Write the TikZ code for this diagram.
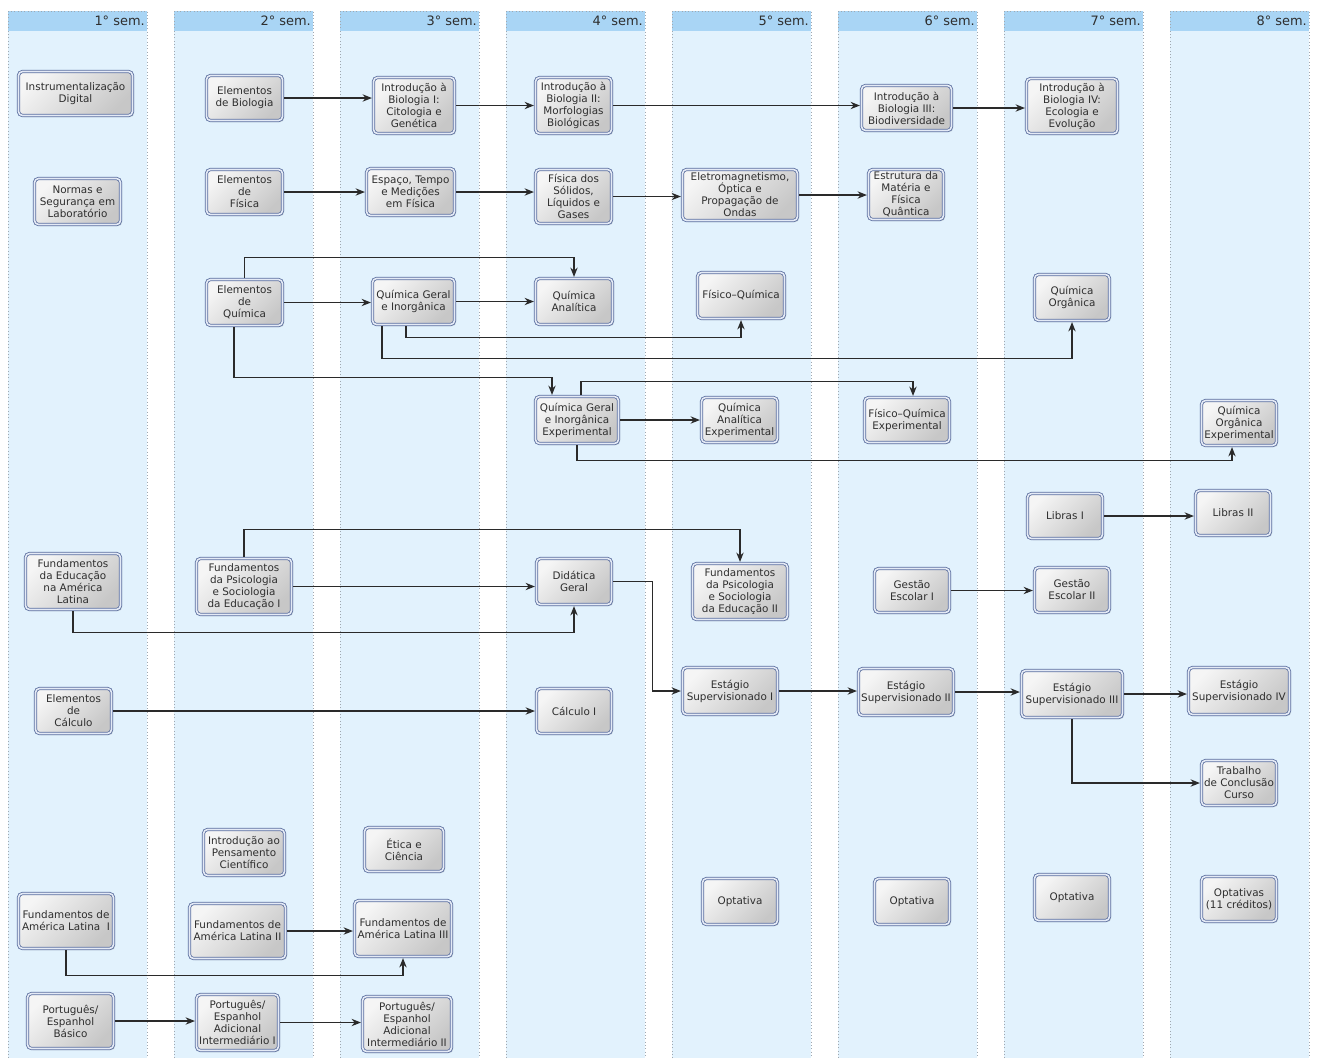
\documentclass[tikz,border=0pt]{standalone}
\usepackage{fontspec}
\setmainfont{DejaVu Sans}
\usetikzlibrary{calc,arrows.meta,shadows}
\definecolor{lanefill}{HTML}{E2F2FD}
\definecolor{headfill}{HTML}{A9D5F5}
\definecolor{lanebd}{HTML}{A0A8B0}
\definecolor{nodebd}{HTML}{5A6E9E}
\definecolor{nodegap}{HTML}{E4EAF6}
\definecolor{txt}{HTML}{2E2E2E}
\definecolor{wire}{HTML}{2A2A2A}
\tikzset{
  course/.style={draw=nodebd, line width=0.6pt, double=nodegap, double distance=1.2pt,
    rounded corners=3pt, top color=white!96!black, bottom color=black!22, shading angle=45,
    drop shadow={opacity=0.3, shadow xshift=1.2pt, shadow yshift=-1.2pt},
    align=center, text=txt, font=\fontsize{7.8}{9}\selectfont, inner sep=1pt, outer sep=1.2pt},
  sz/.style 2 args={minimum width={(#1-3)*0.75pt}, minimum height={(#2-3)*0.75pt}},
  arr/.style={draw=wire, line width=0.8pt, -{Stealth[length=7pt,width=5.5pt]}}
}
\begin{document}
\begin{tikzpicture}[x=0.75pt,y=-0.75pt]
\useasboundingbox (0,0) rectangle (1317,1058);
% lanes
\foreach \i in {0,...,7}{
  \pgfmathsetmacro\xa{8+166*\i}
  \pgfmathsetmacro\xb{147+166*\i}
  \pgfmathtruncatemacro\n{\i+1}
  \fill[lanefill] (\xa,11) rectangle (\xb,1058);
  \fill[headfill] (\xa,11) rectangle (\xb,31);
  \draw[lanebd, dotted, line width=0.5pt] (\xa,1058) -- (\xa,11) -- (\xb,11) -- (\xb,1058);
  \node[anchor=east, font=\fontsize{9.7}{11}\selectfont, text=txt, inner sep=0pt] (h\n) at (\xb-2,21) {\n° sem.};
}
% lane 1
\node[course, sz={117}{47}] (instr) at (75.5,93.5) {Instrumentalização\\Digital};
\node[course, sz={89}{49}] (normas) at (77.5,201.5) {Normas e\\Segurança em\\Laboratório};
\node[course, sz={98}{59}] (fea) at (73,581.5) {Fundamentos\\da Educação\\na América\\Latina};
\node[course, sz={79}{48}] (ecalc) at (73.5,711) {Elementos\\de\\Cálculo};
\node[course, sz={98}{58}] (fal1) at (66,921) {Fundamentos de\\América Latina\ \ I};
\node[course, sz={89}{58}] (pbas) at (70.5,1021) {Português/\\Espanhol\\Básico};
% lane 2
\node[course, sz={79}{48}] (ebio) at (244.5,98) {Elementos\\de Biologia};
\node[course, sz={79}{48}] (efis) at (244.5,192) {Elementos\\de\\Física};
\node[course, sz={79}{49}] (equim) at (244.5,302.5) {Elementos\\de\\Química};
\node[course, sz={98}{59}] (fp1) at (244,586.5) {Fundamentos\\da Psicologia\\e Sociologia\\da Educação I};
\node[course, sz={84}{49}] (ipc) at (244,852.5) {Introdução ao\\Pensamento\\Científico};
\node[course, sz={99}{58}] (fal2) at (237.5,931) {Fundamentos de\\América Latina II};
\node[course, sz={85}{59}] (pt1) at (237.5,1022.5) {Português/\\Espanhol\\Adicional\\Intermediário I};
% lane 3
\node[course, sz={84}{59}] (ib1) at (414,105.5) {Introdução à\\Biologia I:\\Citologia e\\Genética};
\node[course, sz={91}{50}] (esp) at (410.5,192) {Espaço, Tempo\\e Medições\\em Física};
\node[course, sz={85}{49}] (qgi) at (413.5,301.5) {Química Geral\\e Inorgânica};
\node[course, sz={82}{47}] (etica) at (404,849.5) {Ética e\\Ciência};
\node[course, sz={100}{59}] (fal3) at (403,928.5) {Fundamentos de\\América Latina III};
\node[course, sz={92}{58}] (pt2) at (407,1024) {Português/\\Espanhol\\Adicional\\Intermediário II};
% lane 4
\node[course, sz={79}{59}] (ib2) at (573.5,105.5) {Introdução à\\Biologia II:\\Morfologias\\Biológicas};
\node[course, sz={79}{57}] (fsol) at (573.5,196.5) {Física dos\\Sólidos,\\Líquidos e\\Gases};
\node[course, sz={80}{49}] (qan) at (574,301.5) {Química\\Analítica};
\node[course, sz={86}{50}] (qgie) at (577,420) {Química Geral\\e Inorgânica\\Experimental};
\node[course, sz={78}{49}] (did) at (574,581.5) {Didática\\Geral};
\node[course, sz={78}{48}] (calc) at (574,711) {Cálculo I};
% lane 5
\node[course, sz={118}{54}] (elet) at (740,195) {Eletromagnetismo,\\Óptica e\\Propagação de\\Ondas};
\node[course, sz={90}{49}] (fq) at (741,295.5) {Físico–Química};
\node[course, sz={79}{48}] (qane) at (739.5,420) {Química\\Analítica\\Experimental};
\node[course, sz={98}{59}] (fp2) at (740,591.5) {Fundamentos\\da Psicologia\\e Sociologia\\da Educação II};
\node[course, sz={98}{50}] (est1) at (730,691) {Estágio\\Supervisionado I};
\node[course, sz={78}{49}] (opt5) at (740,901.5) {Optativa};
% lane 6
\node[course, sz={93}{48}] (ib3) at (906.5,108) {Introdução à\\Biologia III:\\Biodiversidade};
\node[course, sz={78}{53}] (estr) at (906,194.5) {Estrutura da\\Matéria e\\Física\\Quântica};
\node[course, sz={88}{48}] (fqe) at (907,420) {Físico–Química\\Experimental};
\node[course, sz={78}{47}] (ges1) at (912,590.5) {Gestão\\Escolar I};
\node[course, sz={98}{50}] (est2) at (906,692) {Estágio\\Supervisionado II};
\node[course, sz={78}{49}] (opt6) at (912,901.5) {Optativa};
% lane 7
\node[course, sz={94}{58}] (ib4) at (1072,106) {Introdução à\\Biologia IV:\\Ecologia e\\Evolução};
\node[course, sz={78}{49}] (qorg) at (1072,297.5) {Química\\Orgânica};
\node[course, sz={78}{48}] (lib1) at (1065,516) {Libras I};
\node[course, sz={78}{48}] (ges2) at (1072,590) {Gestão\\Escolar II};
\node[course, sz={104}{50}] (est3) at (1072,694) {Estágio\\Supervisionado III};
\node[course, sz={78}{49}] (opt7) at (1072,897.5) {Optativa};
% lane 8
\node[course, sz={78}{48}] (qoe) at (1239,423) {Química\\Orgânica\\Experimental};
\node[course, sz={78}{48}] (lib2) at (1233,513) {Libras II};
\node[course, sz={104}{50}] (est4) at (1239,691) {Estágio\\Supervisionado IV};
\node[course, sz={78}{48}] (tcc) at (1239,783) {Trabalho\\de Conclusão\\Curso};
\node[course, sz={78}{48}] (opt8) at (1239,899) {Optativas\\(11 créditos)};
% connectors
\draw[arr] (ebio.east) -- (ebio.east -| ib1.west);
\draw[arr] (ib1.east) -- (ib1.east -| ib2.west);
\draw[arr] (ib2.east) -- (ib2.east -| ib3.west);
\draw[arr] (ib3.east) -- (ib3.east -| ib4.west);
\draw[arr] (efis.east) -- (efis.east -| esp.west);
\draw[arr] (esp.east) -- (esp.east -| fsol.west);
\draw[arr] (fsol.east) -- (fsol.east -| elet.west);
\draw[arr] (elet.east) -- (elet.east -| estr.west);
\draw[arr] (equim.north) -- ++(0,-20) -| (qan.north);
\draw[arr] (equim.east) -- (equim.east -| qgi.west);
\draw[arr] (qgi.east) -- (qgi.east -| qan.west);
\draw[arr] ($(qgi.south)+(-7.5,0)$) -- ++(0,11) -| (fq.south);
\draw[arr] ($(qgi.south)+(-31.5,0)$) -- ++(0,32) -| (qorg.south);
\draw[arr] ($(equim.south)+(-10.5,0)$) -- ++(0,50) -| ($(qgie.north)+(-25,0)$);
\draw[arr] ($(qgie.north)+(4,0)$) -- ++(0,-13) -| ($(fqe.north)+(6,0)$);
\draw[arr] (qgie.east) -- (qgie.east -| qane.west);
\draw[arr] (qgie.south) -- ++(0,15) -| ($(qoe.south)+(-7,0)$);
\draw[arr] (lib1.east) -- (lib1.east -| lib2.west);
\draw[arr] (fp1.north) -- ++(0,-27) -| (fp2.north);
\draw[arr] (fp1.east) -- (fp1.east -| did.west);
\draw[arr] (fea.south) -- ++(0,21) -| (did.south);
\draw[arr] (did.east) -- ++(39,0) |- (est1.west);
\draw[arr] (est1.east) -- (est1.east -| est2.west);
\draw[arr] (est2.east) -- (est2.east -| est3.west);
\draw[arr] (est3.east) -- (est3.east -| est4.west);
\draw[arr] (est3.south) |- (tcc.west);
\draw[arr] (ges1.east) -- (ges1.east -| ges2.west);
\draw[arr] (ecalc.east) -- (ecalc.east -| calc.west);
\draw[arr] (fal2.east) -- (fal2.east -| fal3.west);
\draw[arr] (fal1.south) -- ++(0,25) -| (fal3.south);
\draw[arr] (pbas.east) -- (pbas.east -| pt1.west);
\draw[arr] (pt1.east) -- (pt1.east -| pt2.west);
\end{tikzpicture}
\end{document}
